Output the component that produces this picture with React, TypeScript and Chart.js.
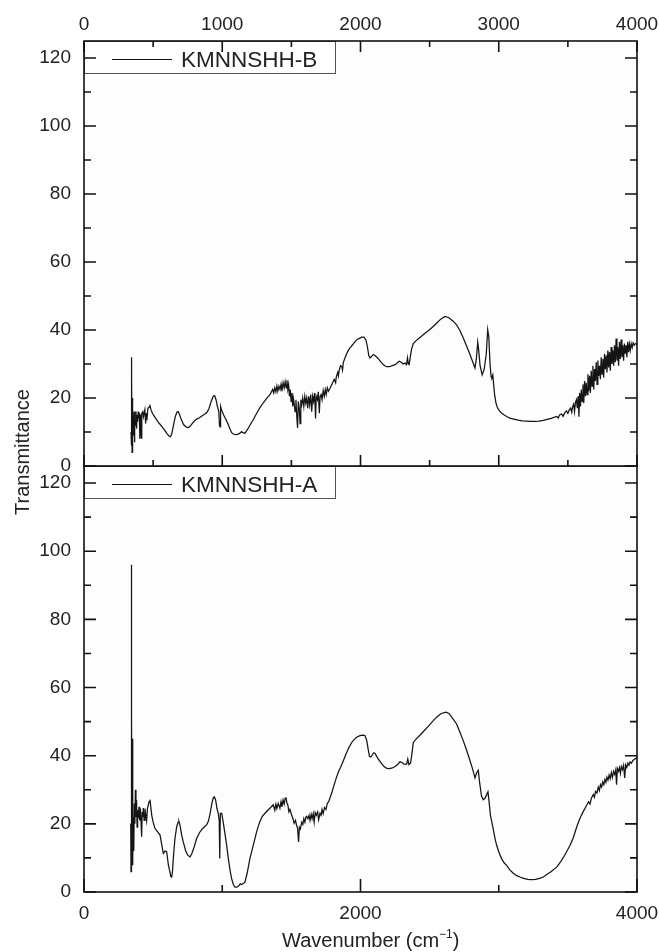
import React, { useEffect, useRef } from 'react';
import { Chart, registerables } from 'chart.js';

Chart.register(...registerables);

// ---------------- data ----------------
const labelB = 'KMNNSHH-B';
const labelA = 'KMNNSHH-A';

const wavenumberB = [
  340, 342, 344, 346, 348, 350, 353, 356, 359, 362, 365, 368, 372, 376, 380, 384, 388, 392, 396, 400,
  404, 410, 415, 418, 425, 430, 440, 446, 450, 455, 462, 470, 477, 485, 495, 510, 526, 545, 565, 585,
  600, 615, 625, 635, 645, 660, 672, 682, 692, 705, 720, 740, 755, 770, 785, 800, 815, 835, 855, 875,
  890, 905, 920, 935, 945, 955, 965, 975, 980, 984, 988, 995, 1010, 1025, 1040, 1055, 1068, 1080, 1095, 1110,
  1125, 1140, 1150, 1164, 1180, 1200, 1224, 1250, 1275, 1297, 1320, 1345, 1365, 1372, 1380, 1388, 1395, 1402, 1410, 1418,
  1425, 1432, 1440, 1448, 1455, 1462, 1468, 1474, 1480, 1486, 1492, 1498, 1504, 1510, 1514, 1520, 1527, 1533, 1540, 1545,
  1550, 1557, 1563, 1568, 1575, 1582, 1590, 1597, 1604, 1611, 1618, 1625, 1632, 1640, 1647, 1654, 1661, 1668, 1675, 1680,
  1688, 1695, 1702, 1708, 1715, 1722, 1730, 1738, 1745, 1752, 1760, 1768, 1779, 1795, 1810, 1820, 1825, 1835, 1840, 1845,
  1855, 1865, 1870, 1876, 1890, 1905, 1920, 1935, 1950, 1965, 1980, 1995, 2010, 2025, 2040, 2050, 2060, 2069, 2080, 2092,
  2105, 2118, 2130, 2150, 2170, 2190, 2210, 2230, 2250, 2265, 2280, 2295, 2310, 2322, 2333, 2340, 2346, 2352, 2360, 2370,
  2382, 2400, 2430, 2460, 2490, 2520, 2550, 2580, 2611, 2640, 2670, 2695, 2720, 2745, 2768, 2790, 2810, 2828, 2838, 2848,
  2855, 2865, 2880, 2895, 2910, 2920, 2928, 2937, 2945, 2950, 2957, 2963, 2970, 2980, 2990, 3005, 3020, 3040, 3060, 3085,
  3110, 3140, 3170, 3200, 3230, 3260, 3290, 3322, 3350, 3380, 3405, 3420, 3430, 3440, 3455, 3465, 3478, 3490, 3500, 3510,
  3520, 3528, 3535, 3542, 3548, 3555, 3562, 3568, 3574, 3580, 3585, 3591, 3597, 3603, 3609, 3615, 3621, 3627, 3633, 3639,
  3645, 3651, 3657, 3663, 3669, 3675, 3681, 3687, 3693, 3699, 3705, 3711, 3717, 3723, 3729, 3735, 3741, 3747, 3753, 3759,
  3765, 3771, 3777, 3783, 3789, 3795, 3801, 3807, 3813, 3819, 3825, 3831, 3837, 3843, 3849, 3855, 3861, 3867, 3873, 3879,
  3885, 3891, 3897, 3903, 3909, 3915, 3921, 3927, 3933, 3939, 3945, 3951, 3958, 3965, 3972, 3980, 3988, 3995, 4000,
];
const transmittanceB = [
  10, 32, 6, 27, 4, 20, 8, 15, 9, 16, 7, 14, 12, 16, 11, 15, 13, 16, 14, 15.5,
  8, 15, 8.2, 15.5, 16, 14.5, 16.5, 12.5, 15.5, 13.5, 17, 17.2, 17.8, 16.5, 15.5, 14.5, 13.6, 12.5, 11.5, 10.5,
  9.5, 8.8, 8.6, 9.5, 11.5, 14.5, 15.8, 16, 15, 13.5, 12.2, 11.4, 11.3, 11.8, 12.6, 13.3, 13.8, 14.2, 14.8, 15.3,
  15.8, 17, 19, 20.5, 20.7, 19.5, 17.5, 16, 12, 11.5, 17.5, 16.5, 15, 13.8, 12.5, 11, 9.8, 9.4, 9.2, 9.3,
  9.6, 10.1, 9.8, 9.6, 10.6, 12, 13.6, 15.6, 17.3, 18.6, 19.8, 21, 22.5, 21.5, 23, 21.8, 23.5, 22, 23.5, 22.5,
  24, 22, 24.5, 23, 24.8, 23, 25.2, 22.5, 24, 20.5, 22.5, 19, 21.5, 17.5, 20, 18.5, 16, 19.5, 14, 11.2,
  19, 17, 12.5, 19.5, 18, 20, 17.5, 20.5, 18.5, 20, 17, 20.5, 18, 21, 16, 20.5, 19, 21.5, 14, 20.5,
  19.5, 21.8, 15.5, 20.5, 21, 19.5, 22.2, 20.5, 22.5, 21, 23, 22, 22.8, 24.2, 25.5, 24.5, 26.2, 27.5, 26.5, 28,
  29.5, 29.2, 28.2, 30.5, 32, 33.5, 34.5, 35.3, 36, 36.8, 37.3, 37.6, 37.9, 37.9, 37, 35, 32.5, 31.8, 32.2, 32.8,
  32.5, 32, 31.5, 30.5, 29.6, 29.2, 29.2, 29.5, 29.8, 30.3, 30.8, 30.5, 30, 30.3, 29.8, 31.8, 30, 29.8, 32, 34.5,
  36, 36.8, 37.8, 38.8, 39.8, 40.8, 42, 43.2, 44, 43.6, 42.6, 41.5, 39.8, 37.5, 35.2, 33, 30.8, 28.8, 31.5, 36.4,
  34, 29.5, 26.8, 28.5, 33, 40.1, 38, 30, 26.2, 26, 26.8, 24, 21, 18.5, 17.2, 16.2, 15.6, 15, 14.5, 14,
  13.8, 13.5, 13.3, 13.2, 13.1, 13.1, 13.2, 13.4, 13.7, 14, 14.4, 14.6, 14.1, 15, 15.3, 14.6, 15.7, 16.2, 15.5, 16.5,
  17, 15.8, 17.6, 18.2, 16, 18.8, 19.5, 17, 20.5, 14.5, 21.5, 17.5, 22.5, 19, 24, 18.5, 25, 20.5, 24.5, 21,
  27, 22, 26.5, 21.5, 28, 23.5, 29.5, 22.5, 28.5, 25, 30.5, 24, 31, 26.5, 29.5, 25.5, 32, 27, 31.5, 26,
  33, 28.5, 32.5, 27.5, 34, 29, 33.5, 28, 35, 30, 34, 29.5, 35.5, 30.5, 37.5, 31, 35, 29.5, 36.5, 31.5,
  37.2, 32, 35.5, 31, 36, 33, 35.5, 32, 36.5, 33.5, 35.8, 34, 36, 34.8, 36.2, 35.5, 36, 35.8, 36,
];

const wavenumberA = [
  338, 340, 342, 344, 345, 348, 351, 354, 357, 360, 364, 368, 372, 376, 380, 384, 388, 393, 398, 403,
  408, 413, 417, 421, 425, 429, 435, 441, 447, 453, 459, 465, 471, 477, 483, 490, 500, 513, 530, 550,
  562, 574, 586, 598, 610, 622, 628, 634, 640, 648, 658, 670, 680, 687, 695, 705, 718, 735, 750, 767,
  780, 795, 815, 835, 855, 875, 887, 900, 912, 925, 935, 943, 952, 962, 971, 978, 982, 986, 996, 1005,
  1020, 1032, 1045, 1058, 1068, 1080, 1092, 1105, 1120, 1130, 1140, 1152, 1164, 1180, 1200, 1225, 1249, 1270, 1290, 1309,
  1330, 1350, 1369, 1380, 1388, 1395, 1405, 1417, 1425, 1432, 1440, 1448, 1455, 1461, 1468, 1475, 1482, 1490, 1502, 1512,
  1520, 1530, 1538, 1545, 1552, 1558, 1565, 1575, 1583, 1590, 1598, 1605, 1611, 1620, 1628, 1635, 1643, 1650, 1658, 1665,
  1672, 1680, 1690, 1697, 1707, 1715, 1722, 1730, 1740, 1750, 1760, 1770, 1779, 1795, 1810, 1825, 1840, 1855, 1876, 1895,
  1915, 1935, 1955, 1975, 1996, 2015, 2032, 2045, 2055, 2065, 2075, 2085, 2095, 2105, 2117, 2129, 2150, 2170, 2190, 2210,
  2230, 2250, 2270, 2286, 2300, 2315, 2334, 2342, 2350, 2362, 2370, 2382, 2400, 2430, 2460, 2490, 2520, 2551, 2580, 2618,
  2640, 2665, 2695, 2720, 2745, 2768, 2790, 2810, 2828, 2840, 2852, 2862, 2875, 2888, 2900, 2912, 2922, 2930, 2940, 2949,
  2962, 2975, 2985, 3000, 3020, 3040, 3057, 3080, 3105, 3130, 3154, 3180, 3210, 3238, 3265, 3295, 3322, 3350, 3380, 3419,
  3450, 3480, 3516, 3540, 3565, 3588, 3610, 3630, 3650, 3660, 3670, 3684, 3692, 3700, 3710, 3720, 3728, 3736, 3744, 3752,
  3760, 3768, 3775, 3782, 3790, 3798, 3806, 3814, 3822, 3830, 3838, 3846, 3852, 3858, 3866, 3873, 3880, 3887, 3895, 3903,
  3911, 3918, 3926, 3934, 3942, 3950, 3960, 3970, 3980, 3990, 4000,
];
const transmittanceA = [
  20, 6, 96, 6.3, 52, 8, 45, 10, 22, 12, 26, 20, 30, 22, 27, 19, 24, 21.7, 25, 21,
  24.5, 20, 16.2, 23.5, 22, 24.6, 21, 24.5, 22.5, 20.9, 24.5, 25.5, 26.5, 27.1, 25, 22.5, 20.5, 18.7, 17.8, 16.7,
  14, 11.3, 12, 11.8, 8, 5.8, 4.5, 4.4, 6, 11, 15.7, 19, 20.4, 20.7, 19.5, 17, 14.7, 12.2, 10.8, 10.3,
  11.3, 13, 15.7, 17.4, 18.5, 19.3, 19.7, 20.8, 23, 26, 27.6, 27.9, 27, 24.5, 23.1, 21, 9.8, 23.1, 23.1, 21,
  17, 13.7, 9.5, 6, 3.9, 2.2, 1.4, 1.4, 1.8, 2.4, 2.2, 2.5, 2.9, 5.5, 9.8, 13.8, 17.7, 20.5, 22.2, 23.1,
  24, 24.8, 25.6, 24, 25.8, 24.5, 26, 24.6, 26.5, 25, 27, 25.8, 27.5, 27.8, 26, 25.5, 23.5, 24.2, 22.6, 21.5,
  20.2, 21, 19.5, 18.7, 14.7, 19, 18.5, 20.5, 19.8, 21.5, 20.5, 22, 22.2, 21.5, 22.5, 21, 22.8, 21.5, 23, 20.5,
  23.3, 22.5, 23.5, 21.2, 23.1, 22.5, 24.2, 23, 24.8, 24.2, 26, 26.5, 27.6, 29.5, 31.5, 33.5, 35.2, 36.5, 38.5, 40.5,
  42.3, 43.8, 44.8, 45.5, 45.9, 46, 45.9, 44.5, 42, 39.8, 39.6, 40.2, 40.8, 40.7, 39.8, 39, 37.8, 36.8, 36.3, 36.2,
  36.4, 36.8, 37.5, 38.2, 38, 37.5, 37.5, 39, 37.4, 37.8, 40, 43.9, 44.8, 46, 47.3, 48.6, 50, 51.3, 52.3, 52.8,
  52.4, 51, 49.3, 46.8, 44.2, 41.5, 38.8, 36.2, 33.5, 35, 35.7, 32, 28.2, 27.1, 27.5, 28.5, 29.4, 26.5, 22.5, 20.7,
  18, 15.3, 13.7, 11.8, 9.8, 8.5, 7.8, 6.5, 5.5, 4.8, 4.4, 4, 3.7, 3.6, 3.7, 4, 4.4, 5.2, 6, 7.3,
  9, 11, 13.7, 16, 19.2, 21.7, 23.5, 25, 26.5, 25.8, 27.5, 28.6, 27.8, 29.5, 29, 30.8, 29.8, 31.5, 30.8, 32.3,
  31.5, 33, 32.2, 33.7, 32.8, 34.3, 33.2, 35, 33.6, 35.4, 34.5, 35.8, 31.5, 36.2, 35.4, 36.5, 34.8, 36.8, 35.9, 37.2,
  33.5, 37.3, 36.5, 37.8, 37.2, 38.2, 37.8, 38.6, 38.9, 39.2, 39.5,
];

const xTicksTop = [0, 1000, 2000, 3000, 4000];
const xMinorTop = [500, 1500, 2500, 3500];
const xTicksBottom = [0, 2000, 4000];
const xMinorBottom = [1000, 3000];
const yTicks = [0, 20, 40, 60, 80, 100, 120];
const yMinor = [10, 30, 50, 70, 90, 110];

// ---------------- style ----------------
const FONT = "'Liberation Sans', Arial, Helvetica, sans-serif";
const INK = '#222222';
const LINE = '#141414';

type PanelCfg = {
  label: string;
  xMajor: number[];
  xMinor: number[];
  xMajorLen: number;
  xMinorLen: number;
  topTicks: boolean;
  bottomTicks: boolean;
};

function panelPlugin(cfg: PanelCfg) {
  return {
    id: 'panelFrame',
    beforeDraw(chart: any) {
      const { ctx, chartArea: a } = chart;
      ctx.save();
      ctx.fillStyle = '#fdfdfd';
      ctx.fillRect(a.left, a.top, a.right - a.left, a.bottom - a.top);
      ctx.restore();
    },
    afterDraw(chart: any) {
      const { ctx, chartArea: a, scales } = chart;
      const xs = scales.x;
      const ys = scales.y;
      ctx.save();
      // legend box
      const bx = a.left;
      const by = a.top;
      ctx.fillStyle = '#ffffff';
      ctx.fillRect(bx, by, 251, 32);
      ctx.strokeStyle = '#555555';
      ctx.lineWidth = 1;
      ctx.strokeRect(bx + 0.5, by + 0.5, 251, 32);
      ctx.strokeStyle = LINE;
      ctx.lineWidth = 1;
      ctx.beginPath();
      ctx.moveTo(bx + 28, by + 18.5);
      ctx.lineTo(bx + 88, by + 18.5);
      ctx.stroke();
      ctx.fillStyle = INK;
      ctx.font = `22.5px ${FONT}`;
      ctx.textBaseline = 'alphabetic';
      ctx.textAlign = 'left';
      ctx.fillText(cfg.label, bx + 97, by + 25.5);

      // ticks
      ctx.strokeStyle = '#111111';
      ctx.lineWidth = 1.6;
      ctx.beginPath();
      const yTick = (v: number, len: number) => {
        const p = ys.getPixelForValue(v);
        ctx.moveTo(a.left, p);
        ctx.lineTo(a.left + len, p);
        ctx.moveTo(a.right, p);
        ctx.lineTo(a.right - len, p);
      };
      yTicks.forEach((v) => yTick(v, 12));
      yMinor.forEach((v) => yTick(v, 7));
      const xTick = (v: number, len: number) => {
        const p = xs.getPixelForValue(v);
        if (cfg.topTicks) {
          ctx.moveTo(p, a.top);
          ctx.lineTo(p, a.top + len);
        }
        if (cfg.bottomTicks) {
          ctx.moveTo(p, a.bottom);
          ctx.lineTo(p, a.bottom - len);
        }
      };
      cfg.xMajor.forEach((v) => xTick(v, cfg.xMajorLen));
      cfg.xMinor.forEach((v) => xTick(v, cfg.xMinorLen));
      ctx.stroke();
      // frame
      ctx.strokeRect(a.left, a.top, a.right - a.left, a.bottom - a.top);
      ctx.restore();
    },
  };
}

function makeChart(
  canvas: HTMLCanvasElement,
  wn: number[],
  tr: number[],
  cfg: PanelCfg,
  xPos: 'top' | 'bottom',
  xHeight: number,
  xPad: number,
  padding: { left: number; right: number; top: number; bottom: number }
) {
  const tickFont = { family: FONT, size: 19 };
  return new Chart(canvas, {
    type: 'scatter',
    data: {
      datasets: [
        {
          label: cfg.label,
          data: wn.map((x, i) => ({ x, y: tr[i] })),
          showLine: true,
          borderColor: LINE,
          borderWidth: 1.25,
          pointRadius: 0,
          pointHoverRadius: 0,
          tension: 0,
          fill: false,
        },
      ],
    },
    options: {
      responsive: false,
      animation: false,
      devicePixelRatio: 1,
      events: [],
      layout: { padding },
      plugins: { legend: { display: false }, tooltip: { enabled: false } },
      scales: {
        x: {
          type: 'linear',
          position: xPos,
          min: 0,
          max: 4000,
          grid: { display: false, drawTicks: false },
          border: { display: false },
          ticks: {
            color: INK,
            font: tickFont,
            padding: xPad,
            maxRotation: 0,
            autoSkip: false,
            callback: (v: any) => String(v),
          },
          afterBuildTicks: (s: any) => {
            s.ticks = cfg.xMajor.map((v) => ({ value: v }));
          },
          afterFit: (s: any) => {
            s.height = xHeight;
            s.paddingLeft = 0;
            s.paddingRight = 0;
          },
        },
        y: {
          type: 'linear',
          min: 0,
          max: 125,
          grid: { display: false, drawTicks: false },
          border: { display: false },
          ticks: {
            color: INK,
            font: tickFont,
            padding: 13,
            autoSkip: false,
            callback: (v: any) => String(v),
          },
          afterBuildTicks: (s: any) => {
            s.ticks = yTicks.map((v) => ({ value: v }));
          },
          afterFit: (s: any) => {
            s.width = 84;
            s.paddingTop = 0;
            s.paddingBottom = 0;
          },
        },
      },
    } as any,
    plugins: [panelPlugin(cfg)],
  });
}

export default function App() {
  const topRef = useRef<HTMLCanvasElement>(null);
  const botRef = useRef<HTMLCanvasElement>(null);

  useEffect(() => {
    const top = makeChart(
      topRef.current!,
      wavenumberB,
      transmittanceB,
      {
        label: labelB,
        xMajor: xTicksTop,
        xMinor: xMinorTop,
        xMajorLen: 11,
        xMinorLen: 6,
        topTicks: true,
        bottomTicks: true,
      },
      'top',
      41,
      5,
      { left: 0, right: 22, top: 0, bottom: 14 }
    );
    const bot = makeChart(
      botRef.current!,
      wavenumberA,
      transmittanceA,
      {
        label: labelA,
        xMajor: xTicksBottom,
        xMinor: xMinorBottom,
        xMajorLen: 13,
        xMinorLen: 7,
        topTicks: false,
        bottomTicks: true,
      },
      'bottom',
      60,
      10,
      { left: 0, right: 22, top: 0, bottom: 0 }
    );
    return () => {
      top.destroy();
      bot.destroy();
    };
  }, []);

  const titleStyle: React.CSSProperties = {
    position: 'absolute',
    fontFamily: FONT,
    fontSize: 20,
    color: INK,
    whiteSpace: 'nowrap',
    lineHeight: 1,
  };

  return (
    <div
      style={{
        position: 'absolute',
        left: 0,
        top: 0,
        width: 659,
        height: 952,
        background: '#ffffff',
        overflow: 'hidden',
      }}
    >
      <canvas
        ref={botRef}
        width={659}
        height={486}
        style={{ position: 'absolute', left: 0, top: 466, zIndex: 1 }}
      />
      <canvas
        ref={topRef}
        width={659}
        height={480}
        style={{ position: 'absolute', left: 0, top: 0, zIndex: 2 }}
      />
      <div
        style={{
          ...titleStyle,
          left: 22,
          top: 452,
          transform: 'translate(-50%, -50%) rotate(-90deg)',
          zIndex: 3,
        }}
      >
        Transmittance
      </div>
      <div
        style={{
          ...titleStyle,
          left: 282,
          top: 930,
          zIndex: 3,
        }}
      >
        Wavenumber (cm
        <span style={{ fontSize: 12, position: 'relative', top: -9 }}>−1</span>)
      </div>
    </div>
  );
}
